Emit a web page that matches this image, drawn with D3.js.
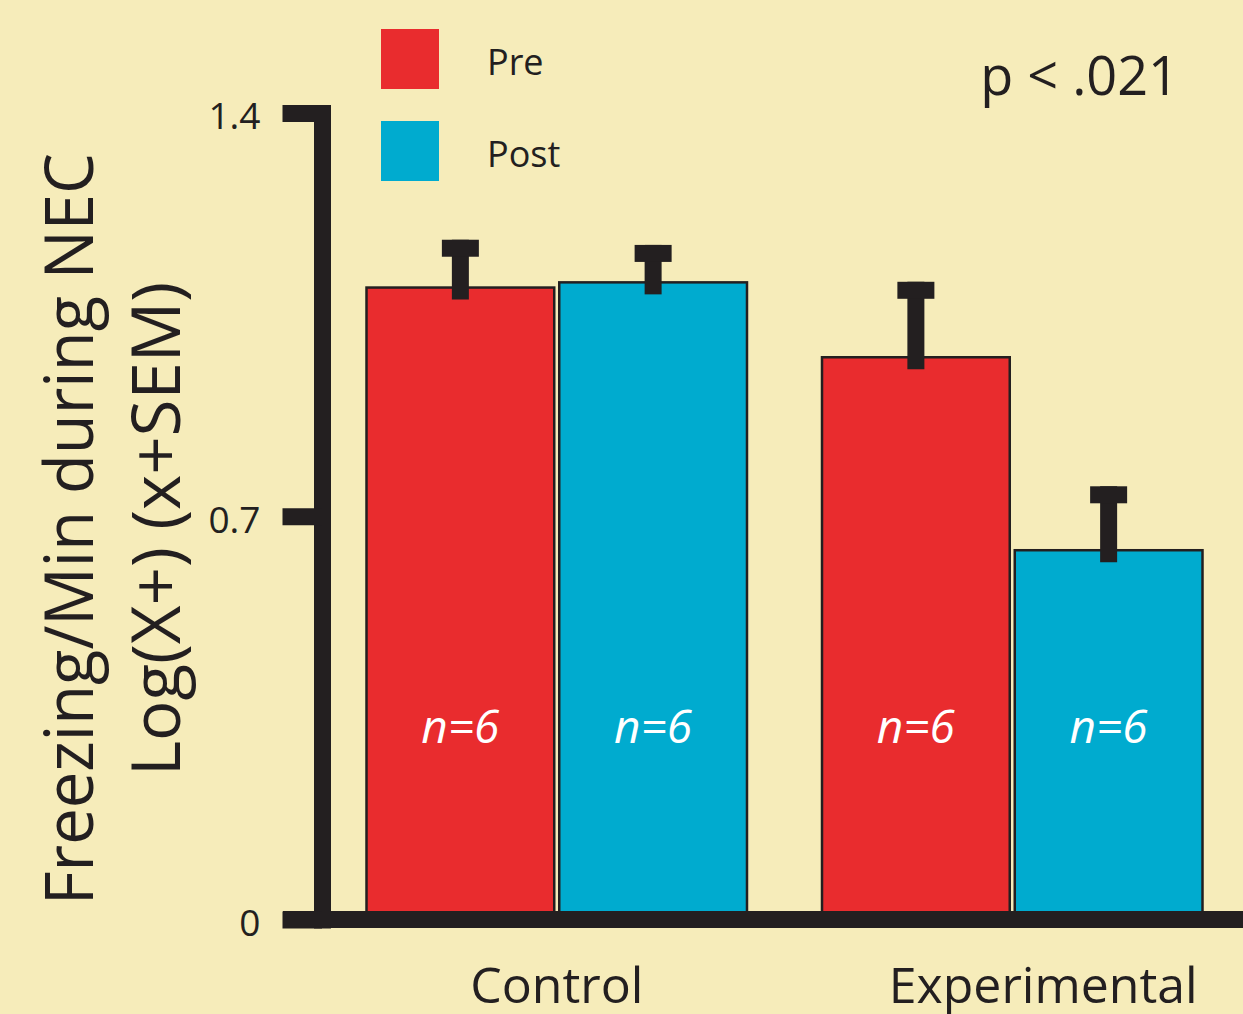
<!DOCTYPE html>
<html>
<head>
<meta charset="utf-8">
<script src="https://cdn.jsdelivr.net/npm/d3@7"></script>
<style>
  body { margin: 0; background: #F6ECBA; }
  svg { display: block; font-family: "Open Sans", sans-serif; }
</style>
</head>
<body>
<div class="chart"></div>
<script>
// data
const groups = ["Control", "Experimental"]
const phases = ["Pre", "Post"]
const means = {
  Control: [1.097, 1.106],
  Experimental: [0.976, 0.641]
}
const sems = {
  Control: [0.083, 0.065],
  Experimental: [0.131, 0.111]
}
const nLabels = ["n=6", "n=6", "n=6", "n=6"]
const yTicks = [0, 0.7, 1.4]
const yTickLabels = ["0", "0.7", "1.4"]
const pText = "p < .021"

const colors = { Pre: "#E92C2E", Post: "#00ABCF" }
const ink = "#231F20"

const w = 1243
const h = 1014

// flatten for drawing
const rows = []
groups.forEach(g => {
  phases.forEach((p, i) => {
    rows.push({ group: g, phase: p, mean: means[g][i], sem: sems[g][i] })
  })
})

const svg = d3.select(".chart")
  .append("svg")
  .attr("width", w)
  .attr("height", h)
  .style("background-color", "#F6ECBA")

// scales
const y = d3.scaleLinear()
  .domain([0, 1.4])
  .range([919.5, 113])

const x0 = d3.scaleBand()
  .domain(groups)
  .range([366.5, 1202.5])
  .paddingInner(0.1647)
  .paddingOuter(0)

const x1 = d3.scaleBand()
  .domain(phases)
  .range([0, x0.bandwidth()])
  .paddingInner(0.026)

// bars
svg.selectAll("rect.bar")
  .data(rows)
  .enter()
  .append("rect")
    .attr("class", "bar")
    .attr("x", d => x0(d.group) + x1(d.phase))
    .attr("y", d => y(d.mean))
    .attr("width", x1.bandwidth())
    .attr("height", d => y(0) - y(d.mean))
    .attr("fill", d => colors[d.phase])
    .attr("stroke", ink)
    .attr("stroke-width", 2.5)

// error bars (stem + cap)
const cx = d => x0(d.group) + x1(d.phase) + x1.bandwidth() / 2
svg.selectAll("line.stem")
  .data(rows)
  .enter()
  .append("line")
    .attr("class", "stem")
    .attr("x1", cx)
    .attr("x2", cx)
    .attr("y1", d => y(d.mean + d.sem))
    .attr("y2", d => y(d.mean) + 12)
    .attr("stroke", ink)
    .attr("stroke-width", 17)

svg.selectAll("rect.cap")
  .data(rows)
  .enter()
  .append("rect")
    .attr("class", "cap")
    .attr("x", d => cx(d) - 18.5)
    .attr("y", d => y(d.mean + d.sem))
    .attr("width", 37)
    .attr("height", 17)
    .attr("fill", ink)

// n labels inside bars
svg.selectAll("text.n")
  .data(rows)
  .enter()
  .append("text")
    .attr("class", "n")
    .attr("x", cx)
    .attr("y", 743)
    .attr("text-anchor", "middle")
    .attr("fill", "#fff")
    .style("font-size", "46px")
    .style("font-style", "italic")
    .text((d, i) => nLabels[i])

// x baseline
svg.append("line")
  .attr("x1", 283)
  .attr("x2", w)
  .attr("y1", y(0))
  .attr("y2", y(0))
  .attr("stroke", ink)
  .attr("stroke-width", 17)

// y axis
const yAxis = d3.axisLeft(y)
  .tickValues(yTicks)
  .tickFormat((d, i) => yTickLabels[i])
  .tickSize(39.5)
  .tickSizeOuter(0)
  .tickPadding(22)

const gy = svg.append("g")
  .attr("transform", "translate(322,0)")
  .call(yAxis)
gy.select(".domain")
  .attr("stroke", ink)
  .attr("stroke-width", 17)
  .attr("stroke-linecap", "square")
gy.selectAll(".tick line")
  .attr("stroke", ink)
  .attr("stroke-width", 17)
gy.selectAll(".tick text")
  .attr("fill", ink)
  .attr("dy", "0.43em")
  .style("font-size", "37px")
  .style("font-family", "'Open Sans', sans-serif")

// x axis labels
const xAxis = d3.axisBottom(x0).tickSize(0).tickPadding(48)
const gx = svg.append("g")
  .attr("transform", "translate(0," + y(0) + ")")
  .call(xAxis)
gx.select(".domain").remove()
gx.selectAll(".tick text")
  .attr("fill", ink)
  .attr("dx", d => d === "Experimental" ? 31 : 0)
  .style("font-size", "50px")
  .style("font-family", "'Open Sans', sans-serif")

// y title, two lines
const yTitle = [
  { text: "Freezing/Min during NEC", x: 93, len: 752 },
  { text: "Log(X+) (x+SEM)", x: 180, len: 494 }
]
svg.selectAll("text.ytitle")
  .data(yTitle)
  .enter()
  .append("text")
    .attr("class", "ytitle")
    .attr("transform", d => "translate(" + d.x + ",529) rotate(-90)")
    .attr("text-anchor", "middle")
    .attr("fill", ink)
    .attr("textLength", d => d.len)
    .attr("lengthAdjust", "spacingAndGlyphs")
    .style("font-size", "68px")
    .text(d => d.text)

// legend
const legend = svg.selectAll("g.legend")
  .data(phases)
  .enter()
  .append("g")
    .attr("class", "legend")
    .attr("transform", (d, i) => "translate(381," + (29 + i * 92) + ")")
legend.append("rect")
  .attr("width", 58)
  .attr("height", 60)
  .attr("fill", d => colors[d])
legend.append("text")
  .attr("x", 106)
  .attr("y", 46)
  .attr("fill", ink)
  .style("font-size", "36px")
  .text(d => d)

// p value
svg.append("text")
  .attr("x", 1179)
  .attr("y", 95)
  .attr("text-anchor", "end")
  .attr("fill", ink)
  .style("font-size", "54px")
  .text(pText)
</script>
</body>
</html>
